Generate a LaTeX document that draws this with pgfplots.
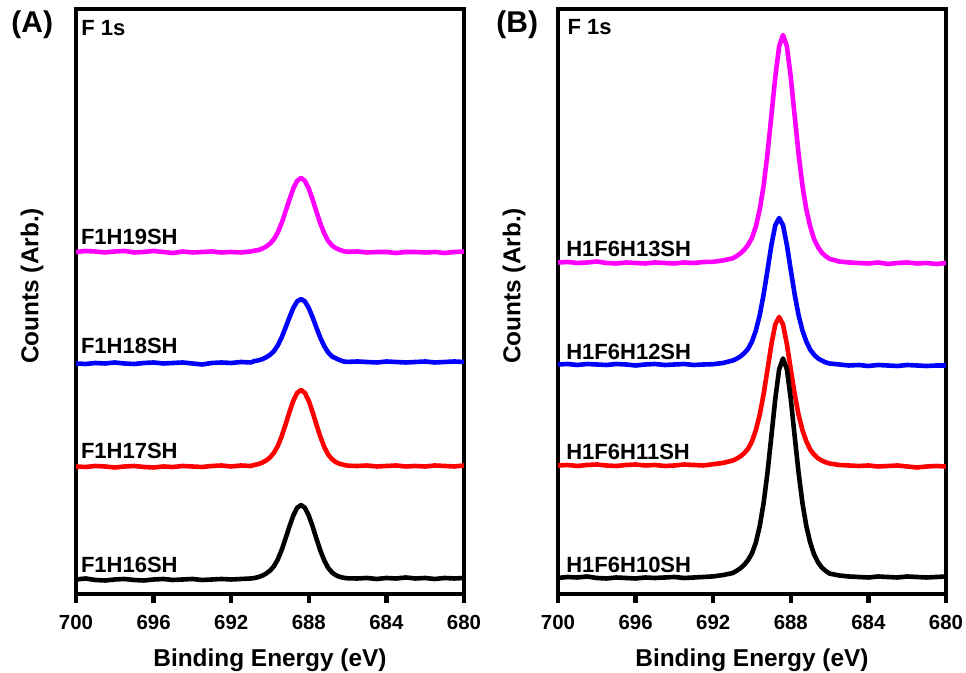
\documentclass[border=0pt]{standalone}
\usepackage{fontspec}
\setmainfont{Liberation Sans}
\usepackage{pgfplots}
\pgfplotsset{compat=1.18}
\definecolor{mag}{rgb}{1,0,1}
\definecolor{blu}{rgb}{0,0,1}
\definecolor{rd}{rgb}{1,0,0}
\newcommand{\labfont}{\fontsize{11}{13}\selectfont\bfseries}
\newcommand{\axfont}{\fontsize{12.2}{14}\selectfont\bfseries}
\pgfplotsset{
 xpsaxis/.style={
  scale only axis, width=194pt, height=292.5pt,
  x dir=reverse, xmin=680, xmax=700, ymin=0, ymax=585,
  xtick={700,696,692,688,684,680},
  xticklabels={700,696,692,688,684,680},
  ytick=\empty,
  xtick pos=bottom, tick align=outside,
  major tick length=4.5pt,
  every tick/.style={line width=2.2pt, black},
  axis line style={line width=2.2pt, line join=miter},
  xticklabel style={font=\fontsize{10.2}{12}\selectfont\bfseries, yshift=-2.5pt},
  xlabel={Binding Energy (eV)},
  ylabel={Counts (Arb.)},
  xlabel style={font=\axfont, at={(axis description cs:0.5,-0.1242)}, anchor=base},
  ylabel style={font=\axfont, at={(axis description cs:-0.1134,0.5265)}, anchor=center},
  every axis plot/.append style={line width=2.3pt, line join=round},
 }
}
\begin{document}
\begin{tikzpicture}
\path[use as bounding box] (0,0) rectangle (483pt,336.5pt);
% ---------------- Panel A ----------------
\begin{axis}[xpsaxis, at={(38pt,39.5pt)}, anchor=south west]
\addplot[mag] coordinates {(700,342)(699.5,343)(699,342.5)(698.5,341.5)(698,342.5)(697.5,343)(697,341.5)(696.5,342)(696,343)(695.5,342)(695,341)(694.5,342.5)(694,341.5)(693.5,342)(693,342.5)(692.5,341.5)(692,342)(691.5,341.5)(691,342.5)
(690.8,343.3)(690.6,343.9)(690.4,345.3)(690.2,347.4)(690,350.3)(689.8,354.7)(689.6,361.4)(689.4,370.9)(689.2,382.3)(689,394.3)(688.8,405.4)(688.6,413.2)(688.4,416)(688.2,413.2)(688,405.4)(687.8,394.3)(687.6,381.9)(687.4,370.2)(687.2,360.4)(687,353.1)(686.8,348.5)(686.6,345.7)(686.4,344.1)(686.2,342.7)(686,342.2)
(685.5,342.5)(685,341.5)(684.5,342)(684,342)(683.5,341)(683,342)(682.5,342)(682,341.5)(681.5,342)(681,341)(680.5,342)(680,342.5)};
\addplot[blu] coordinates {(700,230.5)(699.5,230)(699,231)(698.5,230.5)(698,231.5)(697.5,230.5)(697,230)(696.5,231)(696,231.5)(695.5,230.5)(695,231)(694.5,231.5)(694,230.5)(693.5,229.5)(693,231)(692.5,231.5)(692,231)(691.5,232)(691,231.5)
(690.8,232.9)(690.6,233.6)(690.4,234.8)(690.2,236.6)(690,239.1)(689.8,242.8)(689.6,248.5)(689.4,256.6)(689.2,266.3)(689,276.5)(688.8,286)(688.6,292.6)(688.4,295)(688.2,292.6)(688,286)(687.8,276.5)(687.6,266)(687.4,256)(687.2,247.7)(687,241.5)(686.8,237.5)(686.6,235.6)(686.4,233.8)(686.2,232.5)(686,232.1)
(685.5,232.5)(685,232)(684.5,231.5)(684,232.5)(683.5,232)(683,231.5)(682.5,232)(682,232.5)(681.5,231.5)(681,232)(680.5,232.5)(680,232)};
\addplot[rd] coordinates {(700,127.5)(699.5,127)(699,128)(698.5,127.5)(698,126.5)(697.5,127.5)(697,128)(696.5,127)(696,126.5)(695.5,127.5)(695,127)(694.5,128)(694,127.5)(693.5,127)(693,128)(692.5,128.5)(692,127.5)(691.5,128.5)(691,128)
(690.8,129.1)(690.6,129.9)(690.4,131.4)(690.2,133.5)(690,136.5)(689.8,141.1)(689.6,147.9)(689.4,157.6)(689.2,169.4)(689,181.7)(688.8,193.1)(688.6,201.1)(688.4,204)(688.2,201.1)(688,193.1)(687.8,181.7)(687.6,169)(687.4,157)(687.2,146.9)(687,139.4)(686.8,134.7)(686.6,131.8)(686.4,130.1)(686.2,129.2)(686,128.3)
(685.5,128)(685,128.5)(684.5,127.5)(684,128)(683.5,128.5)(683,127.5)(682.5,128)(682,127.5)(681.5,128.5)(681,128)(680.5,127.5)(680,128.5)};
\addplot[black] coordinates {(700,14.5)(699.5,15.5)(699,14)(698.5,13.5)(698,14.5)(697.5,15)(697,14)(696.5,13.5)(696,14.5)(695.5,15)(695,14)(694.5,14.5)(694,15)(693.5,14)(693,14.5)(692.5,15)(692,14.5)(691.5,15)(691,15.5)
(690.8,16)(690.6,16.9)(690.4,18.3)(690.2,20.4)(690,23.3)(689.8,27.7)(689.6,34.4)(689.4,43.9)(689.2,55.3)(689,67.3)(688.8,78.4)(688.6,86.2)(688.4,89)(688.2,86.2)(688,78.4)(687.8,67.3)(687.6,54.9)(687.4,43.2)(687.2,33.4)(687,26.1)(686.8,21.5)(686.6,18.7)(686.4,17.1)(686.2,16.2)(686,15.7)
(685.5,15.5)(685,16)(684.5,15)(684,16)(683.5,15.5)(683,16.5)(682.5,15.5)(682,16)(681.5,15)(681,16)(680.5,15.5)(680,16)};
\node[anchor=base west, inner sep=0, font=\labfont] at (axis cs:699.74,558) {F 1s};
\node[anchor=base west, inner sep=0, font=\labfont] at (axis cs:699.76,349) {F1H19SH};
\node[anchor=base west, inner sep=0, font=\labfont] at (axis cs:699.76,240.7) {F1H18SH};
\node[anchor=base west, inner sep=0, font=\labfont] at (axis cs:699.76,135.7) {F1H17SH};
\node[anchor=base west, inner sep=0, font=\labfont] at (axis cs:699.76,21.7) {F1H16SH};
\end{axis}
% ---------------- Panel B ----------------
\begin{axis}[xpsaxis, at={(279pt,39.5pt)}, anchor=south west]
\addplot[mag] coordinates {(700,331.5)(699.5,332)(699,331)(698.5,331.5)(698,332.5)(697.5,331)(697,330.5)(696.5,331.5)(696,331)(695.5,330.5)(695,331.5)(694.5,331)(694,330.5)(693.5,331.5)(693,331)(692.5,332)(692,332.2)(691.5,333.5)(691,335.6)
(690.8,337.8)(690.6,340.6)(690.4,344.2)(690.2,349.2)(690,356.1)(689.8,367.5)(689.6,384.6)(689.4,408.5)(689.2,440.4)(689,478.1)(688.8,516.8)(688.6,547.6)(688.4,559)(688.2,547.6)(688,516.8)(687.8,478.1)(687.6,440.4)(687.4,408.5)(687.2,384.6)(687,367.5)(686.8,354.9)(686.6,347)(686.4,341.3)(686.2,337.8)(686,335.1)
(685.5,332.5)(685,331.5)(684.5,331)(684,330.5)(683.5,331.5)(683,330)(682.5,331)(682,331.5)(681.5,330.5)(681,331)(680.5,330)(680,331)};
\addplot[blu] coordinates {(700,229.5)(699.5,230)(699,229)(698.5,230)(698,229.5)(697.5,229)(697,230)(696.5,229.5)(696,228.5)(695.5,229.5)(695,230)(694.5,229)(694,229.5)(693.5,230)(693,229)(692.5,229.5)(692,229.8)(691.5,231)(691,233.4)
(690.8,235.2)(690.6,237.5)(690.4,240.8)(690.2,245.2)(690,252.5)(689.8,263.5)(689.6,279)(689.4,299.6)(689.2,323.8)(689,348.8)(688.8,368.7)(688.6,376)(688.4,368.7)(688.2,348.8)(688,323.8)(687.8,299.6)(687.6,279)(687.4,263.5)(687.2,252.5)(687,244.4)(686.8,239.3)(686.6,235.6)(686.4,233.4)(686.2,231.6)(686,230.5)
(685.5,229.5)(685,228.5)(684.5,229)(684,228)(683.5,229)(683,228.5)(682.5,228)(682,229)(681.5,228.5)(681,228)(680.5,228.5)(680,228.5)};
\addplot[rd] coordinates {(700,128.5)(699.5,129)(699,128)(698.5,129)(698,129.5)(697.5,128.5)(697,128)(696.5,129)(696,129.5)(695.5,128.5)(695,129)(694.5,128)(694,128.5)(693.5,129.5)(693,129)(692.5,128.5)(692,129.8)(691.5,131)(691,133.4)
(690.8,135.2)(690.6,137.6)(690.4,140.8)(690.2,145.3)(690,152.7)(689.8,163.8)(689.6,179.3)(689.4,200)(689.2,224.5)(689,249.6)(688.8,269.6)(688.6,277)(688.4,269.6)(688.2,249.6)(688,224.5)(687.8,200)(687.6,179.3)(687.4,163.8)(687.2,152.7)(687,144.5)(686.8,139.4)(686.6,135.7)(686.4,133.4)(686.2,131.7)(686,130.5)
(685.5,129)(685,128.5)(684.5,128)(684,128.5)(683.5,127.5)(683,128)(682.5,128.5)(682,127.5)(681.5,126.5)(681,127.5)(680.5,128)(680,127.5)};
\addplot[black] coordinates {(700,16)(699.5,17)(699,16.5)(698.5,17.5)(698,16)(697.5,15.5)(697,16.5)(696.5,16)(696,15.5)(695.5,16.5)(695,16)(694.5,16.5)(694,17)(693.5,16)(693,16.5)(692.5,17)(692,17.6)(691.5,18.9)(691,20.9)
(690.8,23.1)(690.6,25.7)(690.4,29.2)(690.2,34)(690,40.6)(689.8,51.5)(689.6,68)(689.4,91)(689.2,121.6)(689,157.8)(688.8,195)(688.6,224.6)(688.4,235.5)(688.2,224.6)(688,195)(687.8,157.8)(687.6,121.6)(687.4,91)(687.2,68)(687,51.5)(686.8,39.5)(686.6,31.8)(686.4,26.4)(686.2,23.1)(686,20.4)
(685.5,18.5)(685,17.5)(684.5,17)(684,16.5)(683.5,17.5)(683,17)(682.5,16.5)(682,17.5)(681.5,17)(681,16.5)(680.5,17)(680,17.5)};
\node[anchor=base west, inner sep=0, font=\labfont] at (axis cs:699.52,559) {F 1s};
\node[anchor=base west, inner sep=0, font=\labfont] at (axis cs:699.59,337.3) {H1F6H13SH};
\node[anchor=base west, inner sep=0, font=\labfont] at (axis cs:699.59,234.5) {H1F6H12SH};
\node[anchor=base west, inner sep=0, font=\labfont] at (axis cs:699.59,134.5) {H1F6H11SH};
\node[anchor=base west, inner sep=0, font=\labfont] at (axis cs:699.59,21.5) {H1F6H10SH};
\end{axis}
\node[anchor=base west, inner sep=0, font=\fontsize{15}{17}\selectfont\bfseries] at (5.5pt,320pt) {(A)};
\node[anchor=base west, inner sep=0, font=\fontsize{15}{17}\selectfont\bfseries] at (248pt,320pt) {(B)};
\end{tikzpicture}
\end{document}
